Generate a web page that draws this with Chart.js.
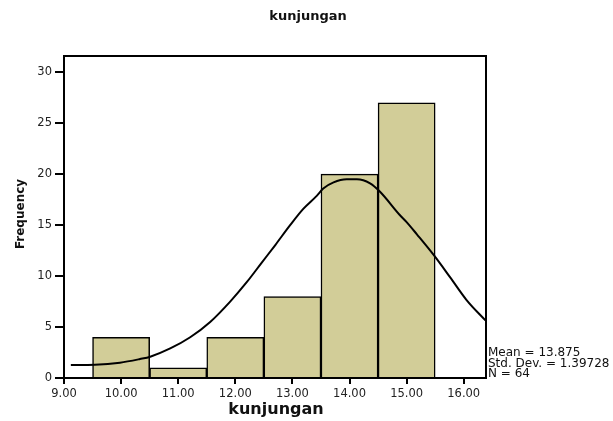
<!DOCTYPE html>
<html>
<head>
<meta charset="utf-8">
<script src="https://cdn.jsdelivr.net/npm/chart.js@4"></script>
<style>
  html, body { margin: 0; padding: 0; background: #fff; }
  #wrap { width: 613px; height: 421px; position: relative; }
</style>
</head>
<body>
<div id="wrap"><canvas id="histChart" width="613" height="421"></canvas></div>
<script>
// Histogram data
const binCenters = [10, 11, 12, 13, 14, 15];
const frequencies = [4, 1, 4, 8, 20, 27];

// Normal curve as drawn in the picture
const curveX = [9.12, 9.54, 9.98, 10.33, 10.51, 10.86, 11.21, 11.56, 11.91, 12.2, 12.46, 12.7, 12.96,
                13.19, 13.43, 13.54, 13.72, 13.95, 14.13, 14.36, 14.53, 14.88, 15.0, 15.18,
                15.47, 15.76, 16.05, 16.39];
const curveY = [1.27, 1.3, 1.5, 1.86, 2.09, 2.9, 4.0, 5.5, 7.5, 9.4, 11.3, 13.05, 15.0,
                16.6, 17.9, 18.6, 19.2, 19.5, 19.5, 19.1, 18.3, 16.0, 15.3, 14.1,
                12.1, 9.9, 7.65, 5.6];

const xTicks = [9, 10, 11, 12, 13, 14, 15, 16];
const yTicks = [0, 5, 10, 15, 20, 25, 30];
const statsLines = ['Mean = 13.875', 'Std. Dev. = 1.39728', 'N = 64'];

const chartTitle = 'kunjungan';
const xTitle = 'kunjungan';
const yTitle = 'Frequency';

const FONT = '"DejaVu Sans", sans-serif';

// Frame and free text (title, axis titles, stats box)
const textPlugin = {
    id: 'textPlugin',
    afterDraw(chart) {
        const ctx = chart.ctx;
        const a = chart.chartArea;
        ctx.save();
        ctx.strokeStyle = '#000';
        ctx.lineWidth = 2;
        ctx.strokeRect(a.left, a.top, a.right - a.left, a.bottom - a.top);

        ctx.fillStyle = '#111';
        ctx.textBaseline = 'middle';
        ctx.textAlign = 'center';
        ctx.font = 'bold 13px ' + FONT;
        ctx.fillText(chartTitle, 308, 17);

        ctx.font = 'bold 16px ' + FONT;
        ctx.fillText(xTitle, 276, 410);

        ctx.save();
        ctx.translate(21, 214);
        ctx.rotate(-Math.PI / 2);
        ctx.font = 'bold 12px ' + FONT;
        ctx.fillText(yTitle, 0, 0);
        ctx.restore();

        ctx.textAlign = 'left';
        ctx.font = '12px ' + FONT;
        statsLines.forEach((line, i) => {
            ctx.fillText(line, 488, 353 + i * 10.5);
        });
        ctx.restore();
    }
};

const ctx = document.getElementById('histChart').getContext('2d');

new Chart(ctx, {
    data: {
        datasets: [{
            type: 'line',
            data: curveX.map((x, i) => ({ x: x, y: curveY[i] })),
            borderColor: '#000',
            borderWidth: 2,
            pointRadius: 0,
            cubicInterpolationMode: 'monotone',
            fill: false,
            order: 0
        }, {
            type: 'bar',
            data: binCenters.map((x, i) => ({ x: x, y: frequencies[i] })),
            backgroundColor: '#d2cd98',
            borderColor: '#000',
            borderWidth: 1.5,
            barPercentage: 1.0,
            categoryPercentage: 1.0,
            order: 1
        }]
    },
    options: {
        responsive: false,
        animation: false,
        layout: { padding: { left: 0, top: 56, right: 127, bottom: 0 } },
        plugins: {
            legend: { display: false },
            tooltip: { enabled: false }
        },
        scales: {
            x: {
                type: 'linear',
                min: 9,
                max: 16.39,
                offset: false,
                afterFit(scale) { scale.height = 43; },
                afterBuildTicks(scale) { scale.ticks = xTicks.map(v => ({ value: v })); },
                border: { display: true, color: '#000', width: 2 },
                grid: { drawOnChartArea: false, drawTicks: true, tickLength: 6, color: '#000', lineWidth: 2, offset: false },
                ticks: {
                    color: '#222',
                    padding: 3,
                    maxRotation: 0,
                    font: { family: FONT, size: 11.5 },
                    callback: v => Number(v).toFixed(2)
                }
            },
            y: {
                type: 'linear',
                min: 0,
                max: 31.6,
                afterFit(scale) { scale.width = 64; },
                afterBuildTicks(scale) { scale.ticks = yTicks.map(v => ({ value: v })); },
                border: { display: true, color: '#000', width: 2 },
                grid: { drawOnChartArea: false, drawTicks: true, tickLength: 9, color: '#000', lineWidth: 2 },
                ticks: {
                    color: '#222',
                    padding: 3,
                    font: { family: FONT, size: 11.5 }
                }
            }
        }
    },
    plugins: [textPlugin]
});
</script>
</body>
</html>
